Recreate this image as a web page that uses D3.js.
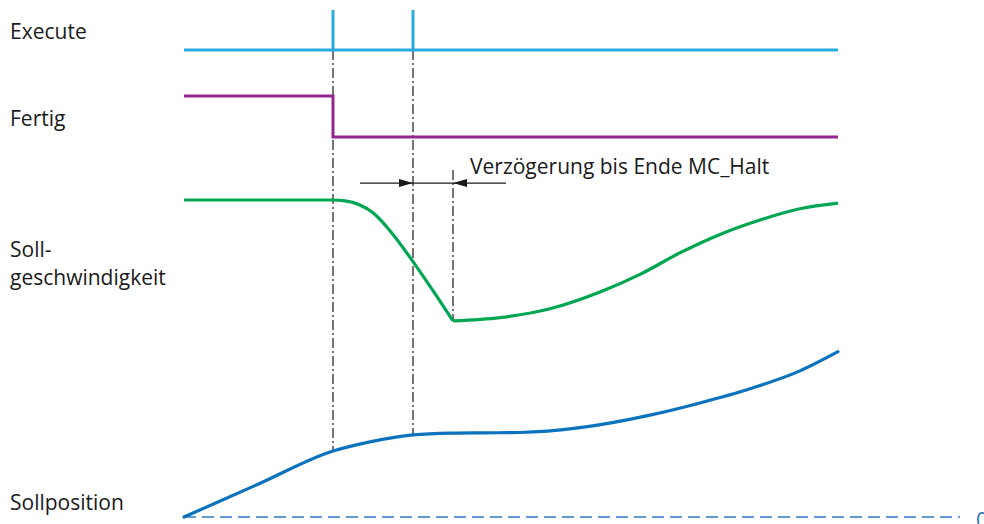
<!DOCTYPE html>
<html>
  <head>
    <meta charset="utf-8">
    <title>MC_Halt</title>
    <script src="https://cdn.jsdelivr.net/npm/d3@7/dist/d3.min.js"></script>
    <style>
      body { margin: 0; background: #fff; }
      text { font-family: "Open Sans", sans-serif; font-size: 21px; fill: #1a1a1a; }
    </style>
  </head>
  <body>
    <div id="chart"></div>
    <script>
    // time in ms
    var signalNames = ["Execute", "Fertig", "Soll-|geschwindigkeit", "Sollposition"];

    var executePulses = [298, 458];
    var executeRange = [0, 1308];
    var fertigSteps = [{t: 0, v: 1}, {t: 298, v: 1}, {t: 298, v: 0}, {t: 1308, v: 0}];

    var velocityDecel = [
      {t: 0, v: 100}, {t: 298, v: 100}, {t: 322, v: 99.5}, {t: 378, v: 92},
      {t: 418, v: 78.5}, {t: 458, v: 61.5}, {t: 498, v: 43.3}, {t: 538, v: 24.4}
    ];
    var velocityAccel = [
      {t: 538, v: 24.4}, {t: 632, v: 26.5}, {t: 732, v: 32}, {t: 832, v: 42.5},
      {t: 912, v: 53.5}, {t: 992, v: 67}, {t: 1072, v: 78.5}, {t: 1152, v: 87.5},
      {t: 1232, v: 94.5}, {t: 1308, v: 98}
    ];
    var position = [
      {t: 0, v: 0}, {t: 149, v: 19.75}, {t: 298, v: 39.5}, {t: 372, v: 45},
      {t: 458, v: 49.2}, {t: 538, v: 50.2}, {t: 600, v: 50.4}, {t: 672, v: 50.6},
      {t: 792, v: 53.5}, {t: 932, v: 61}, {t: 1032, v: 68.3}, {t: 1132, v: 76.8},
      {t: 1232, v: 87.5}, {t: 1308, v: 99}
    ];
    var haltEnd = 538;
    var delayArrow = {from: 352, to: 458, back: 644, end: 538};
    var delayLabel = "Verzögerung bis Ende MC_Halt";
    var zeroEnd = 1552;
    var zeroLabel = "0";

    var W = 984, H = 524;
    var svg = d3.select("#chart").append("svg").attr("width", W).attr("height", H);

    var x = d3.scaleLinear().domain([0, 1308]).range([184, 838]);
    var yExec = d3.scaleLinear().domain([0, 1]).range([50, 10]);
    var yFertig = d3.scaleLinear().domain([0, 1]).range([137, 96]);
    var yVel = d3.scaleLinear().domain([0, 100]).range([360, 200]);
    var yPos = d3.scaleLinear().domain([0, 100]).range([517, 350]);

    var dashDot = "10,3,2,3";
    var defs = svg.append("defs");
    defs.append("marker")
      .attr("id", "arr")
      .attr("viewBox", "0 0 14 8")
      .attr("refX", 14).attr("refY", 4)
      .attr("markerWidth", 14).attr("markerHeight", 8)
      .attr("markerUnits", "userSpaceOnUse")
      .attr("orient", "auto")
      .append("path").attr("d", "M0,0L14,4L0,8Z").attr("fill", "#1a1a1a");

    // labels
    var labelY = [39, 126, 257, 510];
    signalNames.forEach(function(n, i) {
      var t = svg.append("text").attr("x", 10).attr("y", labelY[i]);
      n.split("|").forEach(function(s, j) {
        t.append("tspan").attr("x", 10).attr("dy", j ? 28 : 0).text(s);
      });
    });

    // zero line
    svg.append("line")
      .attr("x1", x(0)).attr("x2", x(zeroEnd))
      .attr("y1", yPos(0)).attr("y2", yPos(0))
      .attr("stroke", "#2e7bc4").attr("stroke-width", 1.6)
      .attr("stroke-dasharray", "12,6");
    svg.append("text")
      .attr("x", x(zeroEnd) + 16).attr("y", yPos(0) + 11)
      .style("fill", "#2e75b6").text(zeroLabel);

    // dash-dot markers
    var guide = svg.append("g").attr("stroke", "#3a3a3a").attr("stroke-width", 1.4)
      .attr("stroke-dasharray", dashDot).attr("fill", "none");
    var posAt = d3.scaleLinear().domain(position.map(d => d.t)).range(position.map(d => d.v));
    executePulses.forEach(function(t) {
      guide.append("line")
        .attr("x1", x(t)).attr("x2", x(t))
        .attr("y1", yExec(0)).attr("y2", yPos(posAt(t)));
    });
    guide.append("line")
      .attr("x1", x(haltEnd)).attr("x2", x(haltEnd))
      .attr("y1", yVel(118.8)).attr("y2", yVel(velocityAccel[0].v));

    // execute
    var execLine = d3.line().x(d => x(d.t)).y(d => yExec(d.v));
    var execPts = [{t: executeRange[0], v: 0}];
    executePulses.forEach(function(t) { execPts.push({t: t, v: 0}, {t: t, v: 1}, {t: t, v: 0}); });
    execPts.push({t: executeRange[1], v: 0});
    svg.append("path").datum(execPts).attr("d", execLine)
      .attr("fill", "none").attr("stroke", "#29abe2").attr("stroke-width", 3);

    // fertig
    svg.append("path").datum(fertigSteps)
      .attr("d", d3.line().x(d => x(d.t)).y(d => yFertig(d.v)))
      .attr("fill", "none").attr("stroke", "#93278f").attr("stroke-width", 3);

    // velocity
    var velLine = d3.line().x(d => x(d.t)).y(d => yVel(d.v)).curve(d3.curveMonotoneX);
    [velocityDecel, velocityAccel].forEach(function(seg) {
      svg.append("path").datum(seg).attr("d", velLine)
        .attr("fill", "none").attr("stroke", "#00a651").attr("stroke-width", 3.2);
    });

    // position
    svg.append("path").datum(position)
      .attr("d", d3.line().x(d => x(d.t)).y(d => yPos(d.v)).curve(d3.curveMonotoneX))
      .attr("fill", "none").attr("stroke", "#0b72bd").attr("stroke-width", 3.2)
      .attr("stroke-linecap", "round");

    // delay annotation
    var ay = yVel(110.6);
    var ann = svg.append("g").attr("stroke", "#1a1a1a").attr("stroke-width", 1.3);
    ann.append("line").attr("x1", x(delayArrow.from)).attr("x2", x(delayArrow.to))
      .attr("y1", ay).attr("y2", ay).attr("marker-end", "url(#arr)");
    ann.append("line").attr("x1", x(delayArrow.to)).attr("x2", x(delayArrow.end))
      .attr("y1", ay).attr("y2", ay);
    ann.append("line").attr("x1", x(delayArrow.back)).attr("x2", x(delayArrow.end))
      .attr("y1", ay).attr("y2", ay).attr("marker-end", "url(#arr)");
    svg.append("text").attr("x", x(delayArrow.end) + 17).attr("y", yVel(116.3))
      .text(delayLabel);
    </script>
  </body>
</html>
